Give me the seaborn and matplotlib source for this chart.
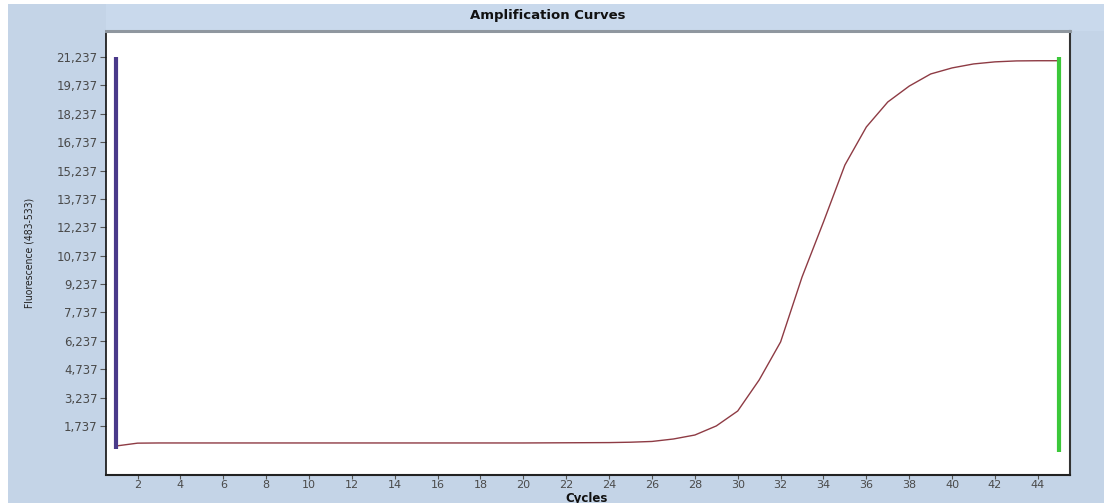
import numpy as np
import pandas as pd
import matplotlib
matplotlib.use("Agg")
import matplotlib.pyplot as plt
from matplotlib.patches import Rectangle
from matplotlib.ticker import FixedLocator, FuncFormatter
import seaborn as sns

# ---- data ----
cycles = list(range(1, 46))
fluorescence = [680, 830, 840, 840, 840, 840, 840, 840, 840, 840,
                840, 840, 840, 840, 840, 840, 840, 840, 840, 840,
                845, 850, 855, 860, 880, 920, 1050, 1260, 1740, 2530,
                4170, 6180, 9610, 12520, 15530, 17540, 18860, 19700, 20340, 20660,
                20870, 20980, 21030, 21040, 21040]
marker_cycles = [1, 45]
marker_low = [520, 380]
marker_high = [21220, 21250]
marker_colors = ["#4a3a8a", "#3cc83a"]
y_ticks = [1737 + 1500 * k for k in range(14)]
x_ticks = list(range(2, 45, 2))

df = pd.DataFrame({"Cycles": cycles, "Fluorescence": fluorescence})

sns.set_theme(style="white")
plt.rcParams["font.family"] = ["DejaVu Sans"]

W, H = 1104, 503
fig = plt.figure(figsize=(W / 100, H / 100), dpi=100, facecolor="white")
# blue panel background
fig.patches.append(Rectangle((8 / W, 0), 1 - 8 / W, 1 - 4 / H, transform=fig.transFigure,
                             facecolor="#c4d4e7", edgecolor="none", zorder=-2))
# lighter title strip
fig.patches.append(Rectangle((106 / W, 1 - 31 / H), 1 - 106 / W, 27 / H, transform=fig.transFigure,
                             facecolor="#c9d9ec", edgecolor="none", zorder=-1))

ax = fig.add_axes([106 / W, 1 - 475 / H, (1070 - 106) / W, (475 - 31) / H])
ax.set_facecolor("white")

sns.lineplot(data=df, x="Cycles", y="Fluorescence", ax=ax, color="#8e3b44",
             linewidth=1.0, legend=False)
ax.vlines(marker_cycles, marker_low, marker_high, colors=marker_colors, linewidth=3)

ax.set_xlim(0.53, 45.5)
ax.set_ylim(-853, 22611)

ax.xaxis.set_major_locator(FixedLocator(x_ticks))
ax.yaxis.set_major_locator(FixedLocator(y_ticks))
ax.yaxis.set_major_formatter(FuncFormatter(lambda v, p: f"{int(round(v)):,}"))

ax.tick_params(axis="both", which="major", direction="out", length=4, width=0.8,
               color="#555555", labelsize=8.5, labelcolor="#4a4a4a", pad=2)
ax.tick_params(axis="x", labelsize=8, pad=0.5, length=3)
ax.tick_params(left=True, bottom=True)

for name, sp in ax.spines.items():
    sp.set_visible(True)
ax.spines["left"].set_color("#111111")
ax.spines["left"].set_linewidth(1.2)
ax.spines["bottom"].set_color("#222222")
ax.spines["bottom"].set_linewidth(1.5)
ax.spines["right"].set_color("#333333")
ax.spines["right"].set_linewidth(1.5)
ax.spines["top"].set_color("#8f979f")
ax.spines["top"].set_linewidth(2.2)

ax.set_xlabel("Cycles", fontsize=8.5, fontweight="bold", color="#111111", va="center")
ax.xaxis.set_label_coords(0.498, -0.0525)
ax.set_ylabel("Fluorescence (483-533)", fontsize=7.5, color="#222222", fontstretch="condensed")
ax.yaxis.set_label_coords(-0.074, 0.5)

ax.text(0.4585, 1.034, "Amplification Curves", transform=ax.transAxes,
        ha="center", va="center", fontsize=9.5, fontweight="bold", color="#111111")

fig.savefig("out.png", dpi=100, facecolor=fig.get_facecolor())
